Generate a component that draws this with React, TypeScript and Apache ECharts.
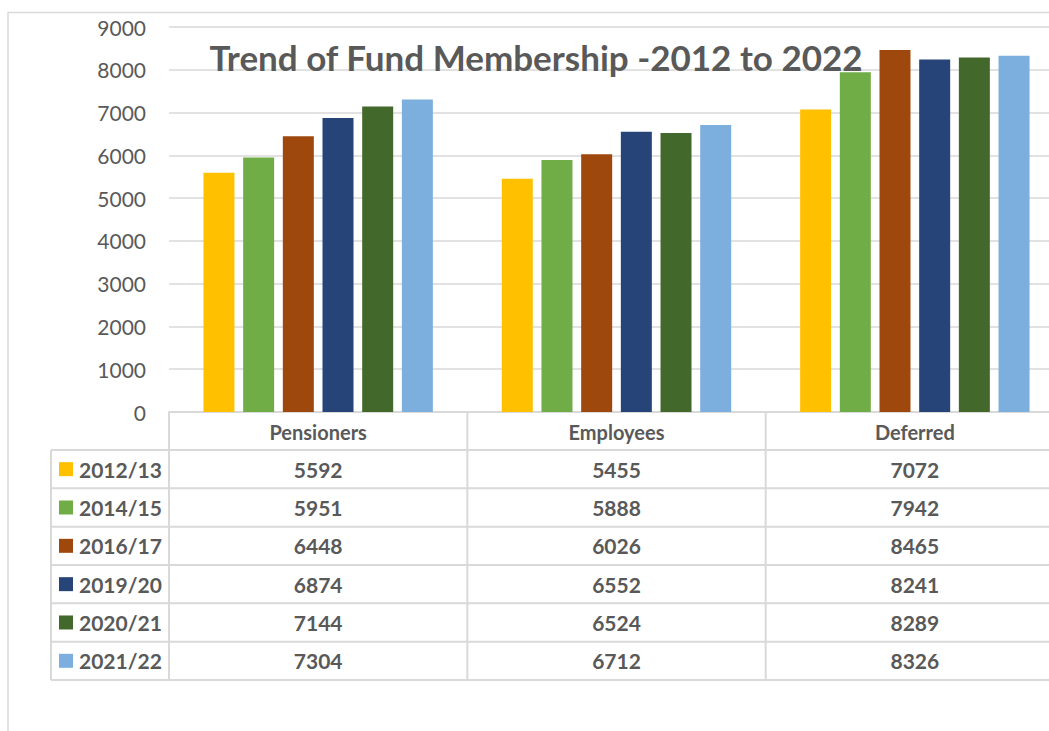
import React, { useEffect, useRef } from "react";
import * as echarts from "echarts";

const categories = ["Pensioners", "Employees", "Deferred"];
const seriesNames = ["2012/13", "2014/15", "2016/17", "2019/20", "2020/21", "2021/22"];
const values2012 = [5592, 5455, 7072];
const values2014 = [5951, 5888, 7942];
const values2016 = [6448, 6026, 8465];
const values2019 = [6874, 6552, 8241];
const values2020 = [7144, 6524, 8289];
const values2021 = [7304, 6712, 8326];
const seriesValues = [values2012, values2014, values2016, values2019, values2020, values2021];
const colors = ["#FFC000", "#70AD47", "#9E480E", "#264478", "#43682B", "#7CAFDD"];
const yTicks = { min: 0, max: 9000, interval: 1000 };
const titleText = "Trend of Fund Membership -2012 to 2022";

const FONT = "Lato, 'Open Sans', sans-serif";
const TEXT = "#595959";
const LINE = "#d9d9d9";

export default function App() {
  const ref = useRef<HTMLDivElement>(null);
  useEffect(() => {
    document.body.style.margin = "0";
    document.body.style.overflow = "hidden";
    const chart = echarts.init(ref.current!, null, { renderer: "svg" });
    const gridLeft = 169;
    const gridTop = 27;
    const zeroY = 412;
    const totalW = 1070;
    const plotRight = 1064;
    chart.setOption({
      animation: false,
      title: {
        text: titleText,
        left: 531,
        top: 34,
        textAlign: "center",
        textStyle: { fontFamily: FONT, fontWeight: "bold", fontSize: 35, color: TEXT },
      },
      grid: { left: gridLeft, right: totalW - plotRight, top: gridTop, bottom: 731 - zeroY, containLabel: false },
      xAxis: {
        type: "category",
        data: categories,
        axisLine: { lineStyle: { color: LINE, width: 2 } },
        axisTick: { show: false },
        axisLabel: { margin: 10, fontSize: 20, fontWeight: "bold", color: TEXT, fontFamily: FONT },
      },
      yAxis: {
        type: "value",
        min: yTicks.min,
        max: yTicks.max,
        interval: yTicks.interval,
        axisLine: { show: false },
        axisTick: { show: false },
        axisLabel: { margin: 23, fontSize: 21, color: TEXT, fontFamily: FONT, formatter: (v: number) => String(v) },
        splitLine: { lineStyle: { color: LINE, width: 1.5 } },
      },
      series: seriesNames.map((name, i) => ({
        name,
        type: "bar",
        data: seriesValues[i],
        barWidth: 31,
        barGap: "28%",
        itemStyle: { color: colors[i] },
      })),
    });

    const centers = categories.map((_, i) => chart.convertToPixel({ xAxisIndex: 0 }, i) as number);
    const band = centers.length > 1 ? centers[1] - centers[0] : 298;
    const left = centers[0] - band / 2;
    const right = centers[centers.length - 1] + band / 2;
    const headerBottom = 450;
    const rowH = 38.33;
    const tableBottom = headerBottom + rowH * seriesNames.length;
    const labelLeft = 51;
    const els: any[] = [];
    els.push({
      type: "rect",
      shape: { x: 8, y: 12.5, width: 1200, height: 900 },
      style: { fill: "none", stroke: LINE, lineWidth: 1.5 },
      silent: true,
    });
    for (let i = 0; i <= categories.length; i++) {
      const x = left + band * i;
      els.push({ type: "line", shape: { x1: x, y1: zeroY, x2: x, y2: tableBottom }, style: { stroke: LINE, lineWidth: 2 } });
    }
    els.push({ type: "line", shape: { x1: labelLeft, y1: headerBottom, x2: labelLeft, y2: tableBottom }, style: { stroke: LINE, lineWidth: 2 } });
    for (let r = 0; r <= seriesNames.length; r++) {
      const y = headerBottom + rowH * r;
      els.push({ type: "line", shape: { x1: labelLeft, y1: y, x2: right, y2: y }, style: { stroke: LINE, lineWidth: 2 } });
    }
    seriesNames.forEach((name, r) => {
      const cy = headerBottom + rowH * r + rowH / 2;
      els.push({ type: "rect", shape: { x: 59, y: cy - 7, width: 14, height: 14 }, style: { fill: colors[r] } });
      els.push({
        type: "text",
        x: 79,
        y: cy,
        style: { text: name, fill: TEXT, font: `bold 21px ${FONT}`, textAlign: "left", textVerticalAlign: "middle" },
      });
      seriesValues[r].forEach((v, c) => {
        els.push({
          type: "text",
          x: centers[c],
          y: cy,
          style: { text: String(v), fill: TEXT, font: `bold 21px ${FONT}`, textAlign: "center", textVerticalAlign: "middle" },
        });
      });
    });
    chart.setOption({ graphic: els });
    return () => chart.dispose();
  }, []);
  return <div ref={ref} style={{ position: "fixed", left: 0, top: 0, width: 1070, height: 731, background: "#fff" }} />;
}
